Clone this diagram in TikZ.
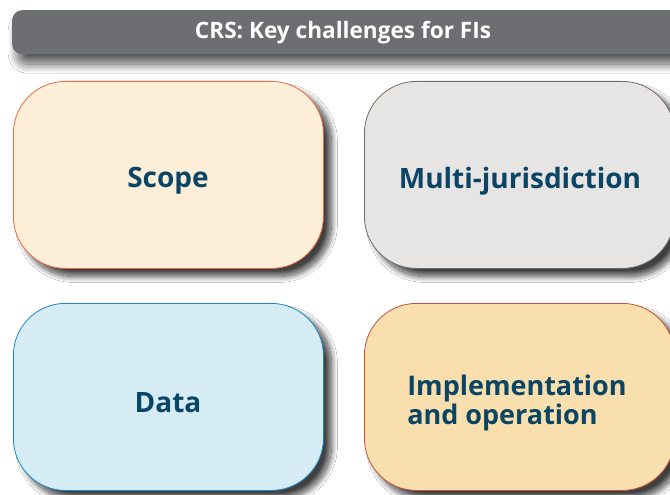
\documentclass[tikz,border=0pt]{standalone}
\usepackage{fontspec}
\setmainfont{Open Sans}
\usetikzlibrary{shadows.blur}
\definecolor{barGray}{HTML}{6D6E71}
\definecolor{labelBlue}{HTML}{0B4566}
\definecolor{scopeFill}{HTML}{FDEFD7}
\definecolor{scopeLine}{HTML}{EE6A45}
\definecolor{multiFill}{HTML}{E6E5E4}
\definecolor{multiLine}{HTML}{6D6E71}
\definecolor{dataFill}{HTML}{D5ECF5}
\definecolor{dataLine}{HTML}{1C86C6}
\definecolor{implFill}{HTML}{F8DFAD}
\definecolor{implLine}{HTML}{C1533D}
\tikzset{
  x=1pt, y=-1pt,
  titlebar/.style={fill=barGray, rounded corners=10pt, minimum width=668pt, minimum height=44pt,
    anchor=north west, inner sep=0pt,
    blur shadow={shadow xshift=5pt, shadow yshift=-10pt, shadow blur radius=9pt, shadow blur steps=20, shadow opacity=65}},
  challenge/.style={rounded corners=52pt, minimum width=310pt, minimum height=187pt,
    anchor=north west, inner sep=0pt, line width=0.8pt,
    blur shadow={shadow xshift=8pt, shadow yshift=-8pt, shadow blur radius=6pt, shadow blur steps=18, shadow opacity=75}},
  label/.style={text=labelBlue, inner sep=0pt, font=\bfseries\fontsize{28}{30}\selectfont},
}
\begin{document}
\begin{tikzpicture}
  \useasboundingbox (0,0) rectangle (670,495);
  \clip (0,0) rectangle (670,495);
  \fill[white] (0,0) rectangle (670,495);
  % heading bar
  \node[titlebar] (title) at (12,10) {};
  \node[text=white, inner sep=0pt, font=\bfseries\fontsize{22.6}{24}\selectfont] (titletext) at (343,33) {CRS: Key challenges for FIs};
  % four challenge boxes
  \node[challenge, fill=scopeFill, draw=scopeLine] (scope) at (13,81) {};
  \node[challenge, fill=multiFill, draw=multiLine] (multi) at (364,81) {};
  \node[challenge, fill=dataFill, draw=dataLine] (data) at (13,303) {};
  \node[challenge, fill=implFill, draw=implLine] (impl) at (364,303) {};
  % box captions
  \node[label] (scopetext) at (168,181) {Scope};
  \node[label] (multitext) at (520,181) {Multi-jurisdiction};
  \node[label] (datatext) at (168,403) {Data};
  \node[label, align=left, font=\bfseries\fontsize{27}{29.5}\selectfont] (impltext) at (517,403) {Implementation\\and operation};
\end{tikzpicture}
\end{document}
